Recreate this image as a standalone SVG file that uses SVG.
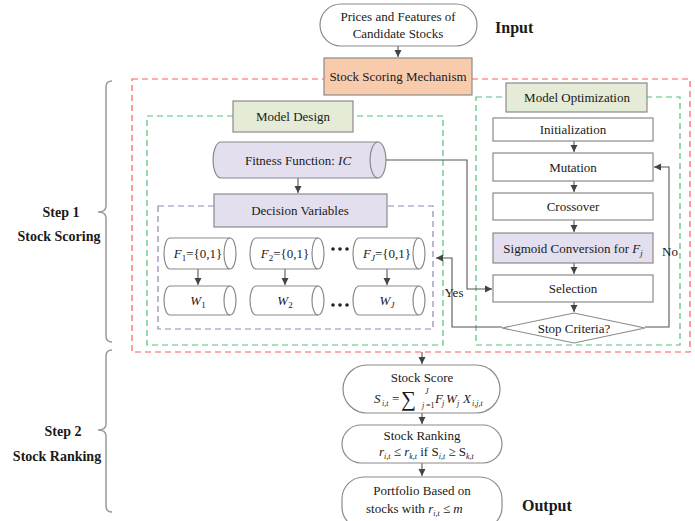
<svg xmlns="http://www.w3.org/2000/svg" width="695" height="521" viewBox="0 0 695 521">
<defs>
<style>
text{font-family:"Liberation Serif","Times New Roman",serif;fill:#1a1a1a;}
.t{font-size:13px;text-anchor:middle;}
.b{font-size:14px;font-weight:bold;}
.lb{font-size:16px;font-weight:bold;}
.i{font-style:italic;}
.box{stroke:#8a8a8a;stroke-width:1.2;}
.w{fill:#ffffff;}
.lav{fill:#e3dfee;}
.grn{fill:#e4ebd7;}
.peach{fill:#f8cbad;}
.ln{fill:none;stroke:#555;stroke-width:1.1;}
.red{fill:none;stroke:#ff5a5a;stroke-width:1.2;stroke-dasharray:6,4;}
.gd{fill:none;stroke:#4ec47c;stroke-width:1.2;stroke-dasharray:6,4;}
.pd{fill:none;stroke:#8f86b3;stroke-width:1.2;stroke-dasharray:6,4;}
.br{fill:none;stroke:#999;stroke-width:1.5;}
</style>
<marker id="ah" markerWidth="8" markerHeight="8" refX="7" refY="4" orient="auto" markerUnits="userSpaceOnUse">
<path d="M0,0.5 L7,4 L0,7.5 Z" fill="#444"/>
</marker>
</defs>
<rect width="695" height="521" fill="#fff"/>

<g id="regions">
<rect class="red" x="132" y="79" width="558" height="273"/>
<rect class="gd" x="147" y="116" width="296" height="229"/>
<rect class="gd" x="476" y="97" width="204" height="248"/>
<rect class="pd" x="158" y="206" width="275" height="123"/>
</g>

<g id="braces">
<path class="br" d="M112,81 Q106,81 106,87 V206 Q106,212 98,212 Q106,212 106,218 V336 Q106,342 112,342"/>
<path class="br" d="M112,350 Q106,350 106,356 V424 Q106,430 98,430 Q106,430 106,436 V506 Q106,512 112,512"/>
<text class="b" x="61" y="217" text-anchor="middle">Step 1</text>
<text class="b" x="59" y="241" text-anchor="middle">Stock Scoring</text>
<text class="b" x="63" y="436" text-anchor="middle">Step 2</text>
<text class="b" x="57" y="461" text-anchor="middle">Stock Ranking</text>
<text class="lb" x="495" y="33">Input</text>
<text class="lb" x="522" y="511">Output</text>
</g>

<g id="connectors">
<line class="ln" x1="398" y1="46" x2="398" y2="57" marker-end="url(#ah)"/>
<line class="ln" x1="298" y1="178" x2="298" y2="193" marker-end="url(#ah)"/>
<line class="ln" x1="198" y1="269" x2="198" y2="285" marker-end="url(#ah)"/>
<line class="ln" x1="285" y1="269" x2="285" y2="285" marker-end="url(#ah)"/>
<line class="ln" x1="387" y1="269" x2="387" y2="285" marker-end="url(#ah)"/>
<path class="ln" d="M386,160 H467 V289 H492" marker-end="url(#ah)"/>
<line class="ln" x1="574" y1="141" x2="574" y2="152" marker-end="url(#ah)"/>
<line class="ln" x1="574" y1="181" x2="574" y2="192" marker-end="url(#ah)"/>
<line class="ln" x1="574" y1="220" x2="574" y2="232" marker-end="url(#ah)"/>
<line class="ln" x1="574" y1="263" x2="574" y2="274" marker-end="url(#ah)"/>
<line class="ln" x1="574" y1="302" x2="574" y2="312" marker-end="url(#ah)"/>
<path class="ln" d="M645,327 H669 V167 H654" marker-end="url(#ah)"/>
<path class="ln" d="M502,327 H452 V258 H436" marker-end="url(#ah)"/>
<text class="t" x="454" y="297">Yes</text>
<text class="t" x="670" y="256">No</text>
<line class="ln" x1="422" y1="352" x2="422" y2="364" marker-end="url(#ah)"/>
<line class="ln" x1="422" y1="413" x2="422" y2="424" marker-end="url(#ah)"/>
<line class="ln" x1="422" y1="463" x2="422" y2="476" marker-end="url(#ah)"/>
</g>

<g id="input">
<rect class="box w" x="320" y="4" width="157" height="42" rx="21"/>
<text class="t" x="398" y="21">Prices and Features of</text>
<text class="t" x="398" y="38">Candidate Stocks</text>
</g>

<g id="scoring">
<rect class="box peach" x="324" y="58" width="148" height="37"/>
<text class="t" x="398" y="81">Stock Scoring Mechanism</text>
</g>

<g id="model-design">
<rect class="box grn" x="233" y="101" width="120" height="31"/>
<text class="t" x="293" y="121">Model Design</text>
</g>

<g id="model-opt">
<rect class="box grn" x="506" y="83" width="141" height="29"/>
<text class="t" x="577" y="102">Model Optimization</text>
</g>

<g id="fitness">
<path class="box lav" d="M221,142 H378 A8,18 0 0 1 378,178 H221 A8,18 0 0 1 221,142 Z"/>
<path class="box" fill="none" d="M378,142 A8,18 0 0 0 378,178"/>
<text class="t" x="298" y="165">Fitness Function: <tspan class="i">IC</tspan></text>
</g>

<g id="decision">
<rect class="box lav" x="214" y="194" width="173" height="33"/>
<text class="t" x="300" y="215">Decision Variables</text>
</g>

<g id="f1">
<path class="box w" d="M170,238 H230 A6,15.5 0 0 1 230,269 H170 A6,15.5 0 0 1 170,238 Z"/>
<path class="box" fill="none" d="M230,238 A6,15.5 0 0 0 230,269"/>
<text class="t" x="198" y="258"><tspan class="i">F</tspan><tspan font-size="9" dy="3">1</tspan><tspan dy="-3">={0,1}</tspan></text>
</g>
<g id="f2">
<path class="box w" d="M256,238 H318 A6,15.5 0 0 1 318,269 H256 A6,15.5 0 0 1 256,238 Z"/>
<path class="box" fill="none" d="M318,238 A6,15.5 0 0 0 318,269"/>
<text class="t" x="285" y="258"><tspan class="i">F</tspan><tspan font-size="9" dy="3">2</tspan><tspan dy="-3">={0,1}</tspan></text>
</g>
<g id="fj">
<path class="box w" d="M359,238 H419 A6,15.5 0 0 1 419,269 H359 A6,15.5 0 0 1 359,238 Z"/>
<path class="box" fill="none" d="M419,238 A6,15.5 0 0 0 419,269"/>
<text class="t" x="387" y="258"><tspan class="i">F</tspan><tspan class="i" font-size="9" dy="3">J</tspan><tspan dy="-3">={0,1}</tspan></text>
</g>
<g id="w1">
<path class="box w" d="M170,286 H230 A6,14.5 0 0 1 230,315 H170 A6,14.5 0 0 1 170,286 Z"/>
<path class="box" fill="none" d="M230,286 A6,14.5 0 0 0 230,315"/>
<text class="t" x="198" y="305"><tspan class="i">W</tspan><tspan font-size="9" dy="3">1</tspan></text>
</g>
<g id="w2">
<path class="box w" d="M256,286 H318 A6,14.5 0 0 1 318,315 H256 A6,14.5 0 0 1 256,286 Z"/>
<path class="box" fill="none" d="M318,286 A6,14.5 0 0 0 318,315"/>
<text class="t" x="285" y="305"><tspan class="i">W</tspan><tspan font-size="9" dy="3">2</tspan></text>
</g>
<g id="wj">
<path class="box w" d="M359,286 H419 A6,14.5 0 0 1 419,315 H359 A6,14.5 0 0 1 359,286 Z"/>
<path class="box" fill="none" d="M419,286 A6,14.5 0 0 0 419,315"/>
<text class="t" x="387" y="305"><tspan class="i">W</tspan><tspan class="i" font-size="9" dy="3">J</tspan></text>
</g>
<g id="dots">
<circle cx="333" cy="249" r="1.8" fill="#222"/><circle cx="340" cy="249" r="1.8" fill="#222"/><circle cx="347" cy="249" r="1.8" fill="#222"/>
<circle cx="333" cy="305" r="1.8" fill="#222"/><circle cx="340" cy="305" r="1.8" fill="#222"/><circle cx="347" cy="305" r="1.8" fill="#222"/>
</g>

<g id="init">
<rect class="box w" x="493" y="118" width="160" height="23"/>
<text class="t" x="573" y="134">Initialization</text>
</g>
<g id="mutation">
<rect class="box w" x="493" y="153" width="160" height="28"/>
<text class="t" x="573" y="172">Mutation</text>
</g>
<g id="crossover">
<rect class="box w" x="493" y="193" width="160" height="27"/>
<text class="t" x="573" y="211">Crossover</text>
</g>
<g id="sigmoid">
<rect class="box lav" x="493" y="233" width="160" height="30"/>
<text class="t" x="573" y="253">Sigmoid Conversion for <tspan class="i">F</tspan><tspan class="i" font-size="9" dy="3">j</tspan></text>
</g>
<g id="selection">
<rect class="box w" x="493" y="275" width="160" height="27"/>
<text class="t" x="573" y="293">Selection</text>
</g>
<g id="stop">
<path class="box w" d="M502,328 L574,313 L645,328 L574,343 Z"/>
<text class="t" x="574" y="333">Stop Criteria?</text>
</g>

<g id="score">
<rect class="box w" x="343" y="365" width="157" height="48" rx="24"/>
<text class="t" x="422" y="382">Stock Score</text>
<text x="374" y="403" font-size="13" class="i">S</text>
<text x="382" y="406" font-size="8" class="i">i,t</text>
<text x="392" y="403" font-size="13">=</text>
<text x="401" y="406" font-size="21">∑</text>
<text x="425" y="394" font-size="8" class="i">J</text>
<text x="422" y="408" font-size="8" class="i">j</text><text x="426" y="408" font-size="8">=1</text>
<text x="435" y="403" font-size="13" class="i">F</text>
<text x="442" y="406" font-size="8" class="i">j</text>
<text x="446" y="403" font-size="13" class="i">W</text>
<text x="457" y="406" font-size="8" class="i">j</text>
<text x="463" y="403" font-size="13" class="i">X</text>
<text x="472" y="406" font-size="8" class="i">i,j,t</text>
</g>

<g id="ranking">
<rect class="box w" x="342" y="425" width="160" height="38" rx="19"/>
<text class="t" x="422" y="440">Stock Ranking</text>
<text x="379" y="456" font-size="13"><tspan class="i">r</tspan><tspan class="i" font-size="8" dy="3">i,t</tspan><tspan dy="-3"> ≤ </tspan><tspan class="i">r</tspan><tspan class="i" font-size="8" dy="3">k,t</tspan><tspan dy="-3">  if  S</tspan><tspan class="i" font-size="8" dy="3">i,t</tspan><tspan dy="-3"> ≥ S</tspan><tspan class="i" font-size="8" dy="3">k,t</tspan></text>
</g>

<g id="portfolio">
<rect class="box w" x="342" y="477" width="160" height="52" rx="22"/>
<text class="t" x="422" y="495">Portfolio Based on</text>
<text x="366" y="513" font-size="13">stocks with  <tspan class="i">r</tspan><tspan class="i" font-size="8" dy="3">i,t</tspan><tspan dy="-3"> ≤ </tspan><tspan class="i">m</tspan></text>
</g>
</svg>
